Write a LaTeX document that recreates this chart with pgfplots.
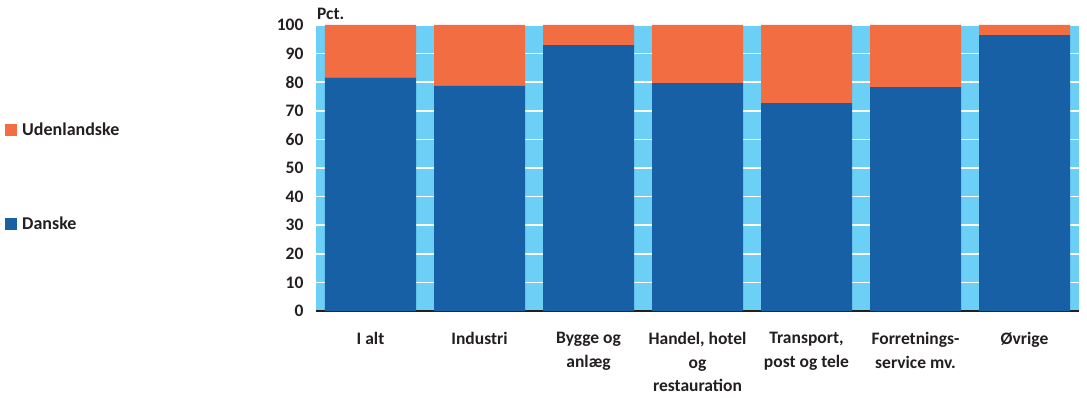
\documentclass[border=0pt]{standalone}
\usepackage{pgfplots}
\pgfplotsset{compat=1.18}
\usepackage{fontspec}
\setmainfont{Carlito}
\definecolor{danblue}{RGB}{24,96,165}
\definecolor{udorange}{RGB}{242,110,66}
\definecolor{skybg}{RGB}{108,207,246}
\definecolor{txt}{RGB}{35,31,32}
\begin{document}
\begin{tikzpicture}[x=1pt,y=1pt]
\useasboundingbox (0,0) rectangle (1087,-398);
\begin{axis}[
  at={(316pt,-311pt)}, anchor=south west,
  scale only axis, width=763pt, height=286pt,
  xmin=-0.5, xmax=6.5, ymin=0, ymax=100,
  ybar stacked, bar width=91pt,
  axis background/.style={fill=skybg},
  ymajorgrids, grid style={white, line width=1.6pt},
  axis x line*=bottom, axis y line*=left,
  y axis line style={draw=none},
  x axis line style={-, line width=1.8pt, color=txt},
  major tick length=0pt,
  xtick={0,...,6},
  xticklabels={I alt, Industri, {Bygge og\\anlæg}, {Handel, hotel\\og\\restauration}, {Transport,\\post og tele}, {Forretnings-\\service mv.}, Øvrige},
  ytick={0,10,...,100},
  /pgf/number format/assume math mode=true,
  tick label style={font=\fontsize{17.5}{23.5}\selectfont\bfseries, text=txt},
  xticklabel style={align=center, anchor=north, yshift=-18pt},
  yticklabel style={xshift=-9pt},
  legend style={at={(axis description cs:-0.4076,0.665)}, anchor=north west, draw=none, fill=none, row sep=76pt, font=\fontsize{18}{20}\selectfont\bfseries, text=txt, inner sep=0pt, nodes={inner sep=2pt}},
  legend cell align=left,
  reverse legend,
  legend image code/.code={\fill[#1, draw=none] (0pt,-6pt) rectangle (12pt,6pt); \path (15pt,0pt);},
  clip=false,
]
\addplot[fill=danblue, draw=none] coordinates {(0,81.6) (1,78.7) (2,93.0) (3,79.7) (4,72.7) (5,78.3) (6,96.5)};
\addlegendentry{Danske}
\addplot[fill=udorange, draw=none] coordinates {(0,18.4) (1,21.3) (2,7.0) (3,20.3) (4,27.3) (5,21.7) (6,3.5)};
\addlegendentry{Udenlandske}
\node[anchor=south west, inner sep=0pt, yshift=5pt, xshift=1pt, font=\fontsize{17.5}{20}\selectfont\bfseries, text=txt] at (rel axis cs:0,1) {Pct.};
\end{axis}
\end{tikzpicture}
\end{document}
